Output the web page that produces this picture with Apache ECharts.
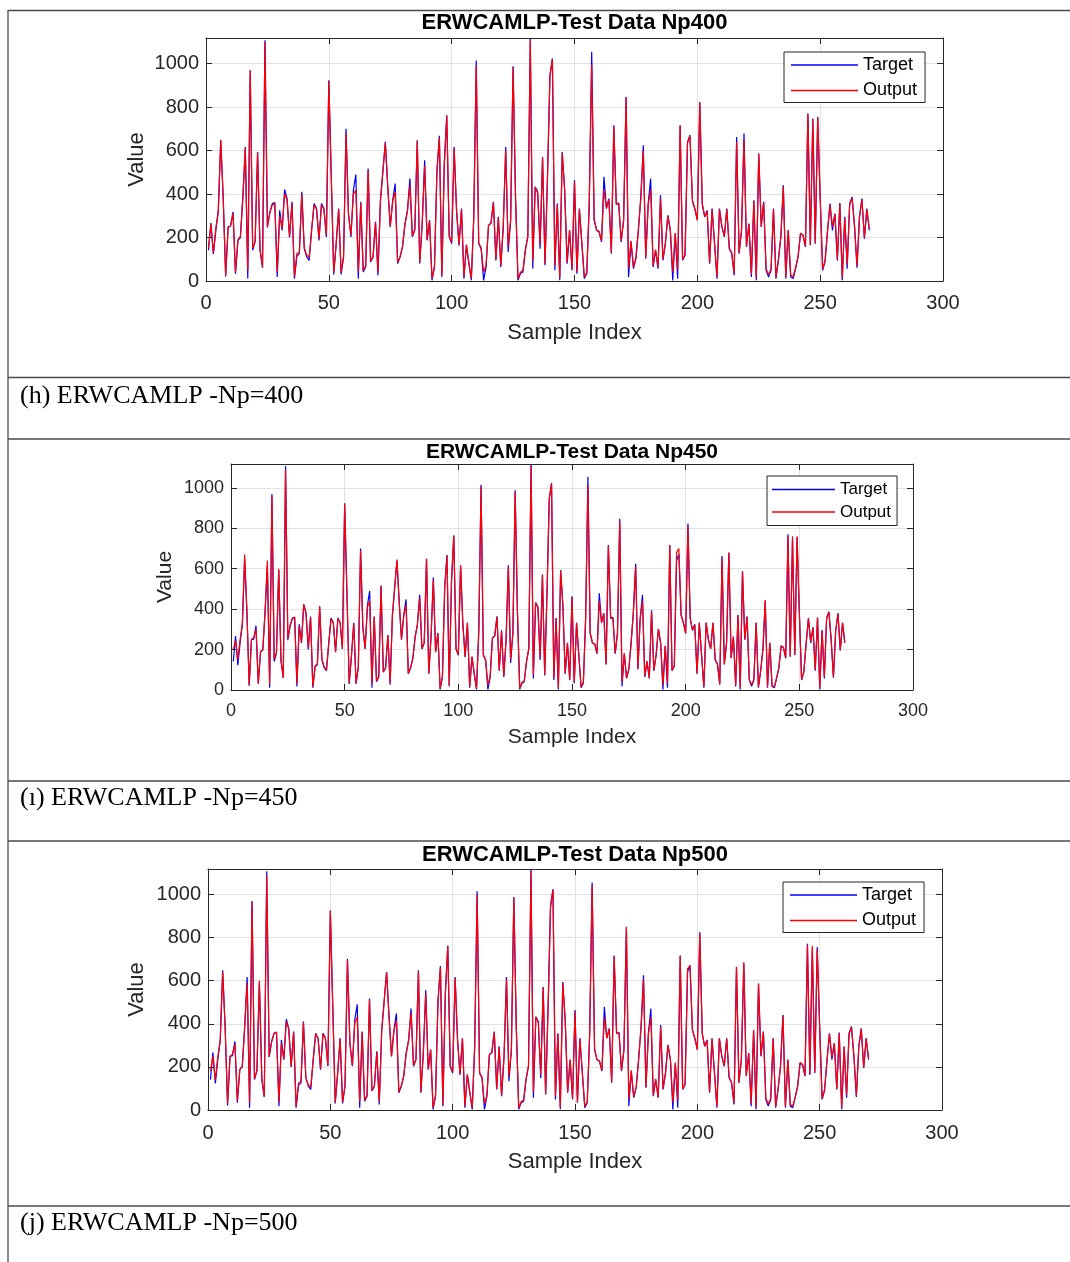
<!DOCTYPE html>
<html>
<head>
<meta charset="utf-8">
<script src="https://cdn.jsdelivr.net/npm/echarts@6/dist/echarts.min.js"></script>
<style>
  html, body { margin: 0; padding: 0; background: #ffffff; }
  #chart { width: 1070px; height: 1262px; }
</style>
</head>
<body>
<div id="chart"></div>
<script>
// Test-set target values (sample index 1..270)
const target = [
  141,267,123,233,325,648,387,21,249,252,
  318,34,187,200,387,617,11,970,141,184,
  594,141,61,1108,246,318,356,361,18,325,
  233,421,379,200,364,11,114,126,410,149,
  111,95,233,356,333,187,356,333,203,924,
  480,30,172,333,30,110,700,310,203,418,
  490,11,364,41,64,517,88,110,272,26,
  371,507,640,433,249,371,448,80,110,157,
  264,325,471,203,233,648,80,264,556,187,
  280,3,64,507,668,18,540,763,203,172,
  617,325,164,333,11,164,80,3,295,1015,
  172,149,3,64,257,267,364,95,295,64,
  249,617,134,280,988,387,3,34,41,141,
  203,1116,57,433,410,149,571,72,479,947,
  1024,49,356,3,594,418,80,233,49,464,
  34,333,172,11,34,356,1055,280,233,226,
  180,479,333,379,126,717,356,359,180,280,
  847,18,180,57,103,233,387,625,103,356,
  471,64,141,57,394,95,172,302,233,3,
  218,11,717,95,118,640,671,371,333,280,
  824,356,295,325,80,333,172,11,333,249,
  203,333,149,126,26,663,126,233,679,157,
  264,18,371,3,587,249,364,49,18,49,
  333,11,95,203,441,11,233,18,11,57,
  110,218,210,157,771,164,748,172,756,387,
  49,90,230,356,233,310,95,359,3,295,
  57,356,387,249,61,295,379,195,333,233
];

// Network output, Np = 400
const output400 = [
  150,262,130,240,318,650,380,28,245,255,
  312,40,190,205,380,612,48,968,150,180,
  590,148,65,1100,250,314,350,358,40,300,
  240,400,372,205,358,20,128,130,400,152,
  118,110,238,350,330,195,350,330,210,920,
  478,38,175,330,38,115,680,305,210,400,
  418,45,360,48,70,510,92,112,268,40,
  365,500,635,430,252,368,410,85,112,160,
  260,320,440,208,238,645,85,260,530,190,
  278,10,70,500,660,25,535,760,208,178,
  610,320,168,330,20,168,85,12,290,990,
  176,152,40,70,255,265,360,100,290,70,
  252,600,160,278,985,380,10,40,48,145,
  208,1110,90,430,405,170,568,78,470,940,
  1020,70,350,15,590,415,85,235,55,455,
  40,330,175,18,40,350,995,285,235,228,
  185,420,335,375,130,710,352,355,185,278,
  845,60,185,62,108,235,380,600,108,350,
  420,70,145,62,380,100,175,300,235,40,
  220,50,715,100,122,635,668,368,330,280,
  820,352,298,320,85,330,175,18,330,250,
  205,330,152,130,35,640,130,235,650,160,
  262,30,368,15,585,252,360,55,30,55,
  330,18,100,205,435,18,235,28,20,62,
  115,220,212,162,768,168,745,175,752,382,
  55,95,232,350,250,308,100,355,12,292,
  75,350,382,252,68,292,375,200,330,240
];

// Network output, Np = 450
const output450 = [
  200,245,150,250,330,670,390,25,250,260,
  300,30,192,198,390,640,30,960,150,185,
  600,150,60,1090,255,320,352,360,30,315,
  238,425,380,210,360,15,120,128,415,150,
  115,100,230,352,335,190,352,335,205,920,
  475,35,170,328,35,112,690,310,205,410,
  440,35,362,45,68,515,90,108,270,35,
  368,505,645,432,250,370,420,82,110,155,
  262,322,455,205,235,650,82,262,545,188,
  282,8,66,505,665,22,538,765,205,175,
  615,322,165,332,15,165,82,8,292,1005,
  174,150,25,68,258,268,362,98,292,68,
  250,610,150,282,980,385,8,38,45,142,
  205,1110,75,432,408,160,570,75,475,945,
  1020,60,352,10,592,416,82,232,52,460,
  38,332,174,15,38,352,1010,282,232,228,
  182,440,334,378,128,712,354,356,182,280,
  835,40,182,60,105,232,385,610,105,352,
  440,68,143,60,388,98,174,302,232,25,
  219,35,716,98,120,680,700,370,332,280,
  810,354,296,322,82,332,174,15,332,250,
  204,332,150,128,30,650,128,234,680,158,
  263,25,370,10,586,250,362,52,25,52,
  332,15,98,204,445,15,234,22,15,60,
  112,219,211,160,760,166,760,174,760,385,
  52,92,231,354,240,309,98,358,8,294,
  65,354,385,250,65,294,378,198,332,236
];

// Network output, Np = 500
const output500 = [
  180,250,140,245,320,640,385,30,248,258,
  305,42,188,202,385,590,35,965,145,182,
  600,145,62,1090,248,316,354,362,35,310,
  236,410,375,202,362,18,125,132,405,150,
  116,105,236,354,332,192,354,332,208,925,
  476,36,172,332,36,114,695,308,208,405,
  430,40,362,46,68,512,92,110,270,38,
  366,502,640,430,250,368,415,84,112,158,
  262,322,450,206,236,645,84,262,540,190,
  280,10,68,502,662,22,536,760,206,176,
  612,322,166,332,18,166,84,10,292,1000,
  174,150,30,68,256,266,362,98,292,68,
  250,605,155,280,985,382,10,38,46,144,
  206,1110,85,432,406,165,570,76,472,942,
  1022,65,352,12,590,416,84,234,54,458,
  38,332,174,16,38,352,1040,284,234,228,
  184,430,334,376,130,712,354,356,184,278,
  850,50,184,60,106,234,382,605,106,352,
  430,68,144,60,385,98,174,300,234,35,
  220,45,716,98,122,655,670,370,330,280,
  820,354,296,322,84,330,174,16,332,250,
  205,332,152,128,32,665,128,234,685,158,
  262,28,370,12,586,252,362,54,28,54,
  332,16,98,204,438,16,234,25,18,60,
  112,220,212,160,765,166,762,174,745,384,
  54,94,232,352,245,308,98,356,10,294,
  70,352,384,250,66,294,376,198,332,238
];

// Axis ticks
const xTicks = [0, 50, 100, 150, 200, 250, 300];
const yTicks = [0, 200, 400, 600, 800, 1000];
const yTop = 1118;

const panelTitles = ['ERWCAMLP-Test Data Np400', 'ERWCAMLP-Test Data Np450', 'ERWCAMLP-Test Data Np500'];
const captions = ['(h) ERWCAMLP -Np=400', '(\u0131) ERWCAMLP -Np=450', '(j) ERWCAMLP -Np=500'];
const outputs = [output400, output450, output500];
const seriesNames = ['Target', 'Output'];

// Panel geometry (pixels)
const panels = [
  { left: 206, top: 38, right: 943, bottom: 281, titleTop: 12, tick: 20, name: 22, yGap: 58, xGap: 41, xMargin: 12,
    legend: { left: 784, top: 52, font: 18, item: 67, gap: 7.5, pad: [4, 8, 3, 7] }, caption: 397 },
  { left: 231, top: 464, right: 913, bottom: 690, titleTop: 442, tick: 18, name: 21, yGap: 55, xGap: 37, xMargin: 12,
    legend: { left: 767, top: 476, font: 17, item: 63, gap: 5.5, pad: [5, 6, 5, 5] }, caption: 799 },
  { left: 208, top: 869, right: 942, bottom: 1110, titleTop: 844, tick: 20, name: 22, yGap: 60, xGap: 41, xMargin: 13,
    legend: { left: 783, top: 882, font: 18, item: 67, gap: 7.5, pad: [4, 8, 3, 7] }, caption: 1224 }
];

const sans = 'Liberation Sans, Arial, Helvetica, sans-serif';
const serif = 'Liberation Serif, Times New Roman, serif';
const axisColor = '#262626';
const gridColor = '#e2e2e2';

const toPoints = arr => arr.map((v, i) => [i + 1, v]);
const plainNumber = v => String(v);

const option = {
  animation: false,
  backgroundColor: '#ffffff',
  textStyle: { fontFamily: sans },
  title: [], grid: [], xAxis: [], yAxis: [], series: [], legend: [], graphic: []
};

panels.forEach((p, k) => {
  const w = p.right - p.left;
  const h = p.bottom - p.top;
  option.grid.push({ left: p.left, top: p.top, width: w, height: h, containLabel: false, outerBoundsMode: 'none', show: false });

  option.title.push({
    text: panelTitles[k], left: (p.left + p.right) / 2, top: p.titleTop, textAlign: 'center', padding: 0,
    textStyle: { fontFamily: sans, fontWeight: 'bold', fontSize: p.name, color: '#000000' }
  });

  const lineStyle = { color: axisColor, width: 1 };
  // bottom x axis
  option.xAxis.push({
    type: 'value', gridIndex: k, position: 'bottom', min: xTicks[0], max: xTicks[xTicks.length - 1],
    interval: xTicks[1] - xTicks[0],
    name: 'Sample Index', nameLocation: 'middle', nameGap: p.xGap,
    nameTextStyle: { fontFamily: sans, fontSize: p.name, color: axisColor },
    axisLine: { show: true, onZero: false, lineStyle },
    axisTick: { show: true, inside: true, length: 6, lineStyle },
    axisLabel: { fontFamily: sans, fontSize: p.tick, color: axisColor, margin: p.xMargin, formatter: plainNumber },
    splitLine: { show: true, lineStyle: { color: gridColor, width: 1 } }
  });
  // top x axis (box edge)
  option.xAxis.push({
    type: 'value', gridIndex: k, position: 'top', min: xTicks[0], max: xTicks[xTicks.length - 1],
    interval: xTicks[1] - xTicks[0],
    axisLine: { show: true, onZero: false, lineStyle },
    axisTick: { show: true, inside: true, length: 6, lineStyle },
    axisLabel: { show: false }, splitLine: { show: false }
  });
  // left y axis
  option.yAxis.push({
    type: 'value', gridIndex: k, position: 'left', min: yTicks[0], max: yTop,
    interval: yTicks[1] - yTicks[0],
    name: 'Value', nameLocation: 'middle', nameGap: p.yGap, nameRotate: 90, nameMoveOverlap: false,
    nameTextStyle: { fontFamily: sans, fontSize: p.name, color: axisColor },
    axisLine: { show: true, onZero: false, lineStyle },
    axisTick: { show: true, inside: true, length: 6, lineStyle },
    axisLabel: { fontFamily: sans, fontSize: p.tick, color: axisColor, margin: 7, showMaxLabel: false, formatter: plainNumber },
    splitLine: { show: true, lineStyle: { color: gridColor, width: 1 } }
  });
  // right y axis (box edge)
  option.yAxis.push({
    type: 'value', gridIndex: k, position: 'right', min: yTicks[0], max: yTop,
    interval: yTicks[1] - yTicks[0],
    axisLine: { show: true, onZero: false, lineStyle },
    axisTick: { show: true, inside: true, length: 6, lineStyle },
    axisLabel: { show: false }, splitLine: { show: false }
  });

  option.series.push({
    name: seriesNames[0], type: 'line', xAxisIndex: 2 * k, yAxisIndex: 2 * k,
    data: toPoints(target), symbol: 'none', showSymbol: false,
    lineStyle: { color: '#0000ff', width: 1.2 }, itemStyle: { color: '#0000ff' }
  });
  option.series.push({
    name: seriesNames[1], type: 'line', xAxisIndex: 2 * k, yAxisIndex: 2 * k,
    data: toPoints(outputs[k]), symbol: 'none', showSymbol: false,
    lineStyle: { color: '#ff0000', width: 1.2 }, itemStyle: { color: '#ff0000' }
  });

  const L = p.legend;
  option.legend.push({
    data: seriesNames, orient: 'vertical', left: L.left, top: L.top,
    icon: 'rect', itemWidth: L.item, itemHeight: 1.4, itemGap: L.gap, padding: L.pad,
    borderColor: axisColor, borderWidth: 1, backgroundColor: '#ffffff', selectedMode: false,
    textStyle: { fontFamily: sans, fontSize: L.font, color: '#000000' }
  });

  option.graphic.push({
    type: 'text', left: 20, top: p.caption - 14,
    style: { text: captions[k], font: '26px ' + serif, fill: '#000000' }
  });
});

// Table rules around each figure panel and caption
const ruleColor = '#4a4a4a';
const hRules = [10.5, 377.5, 439, 781, 841, 1206];
hRules.forEach(y => option.graphic.push({
  type: 'line', shape: { x1: 8, y1: y, x2: 1070, y2: y }, style: { stroke: ruleColor, lineWidth: 1.3 }, silent: true
}));
option.graphic.push({
  type: 'line', shape: { x1: 8, y1: 10, x2: 8, y2: 1262 }, style: { stroke: ruleColor, lineWidth: 1.3 }, silent: true
});

const chart = echarts.init(document.getElementById('chart'), null, { renderer: 'canvas' });
chart.setOption(option);
</script>
</body>
</html>
